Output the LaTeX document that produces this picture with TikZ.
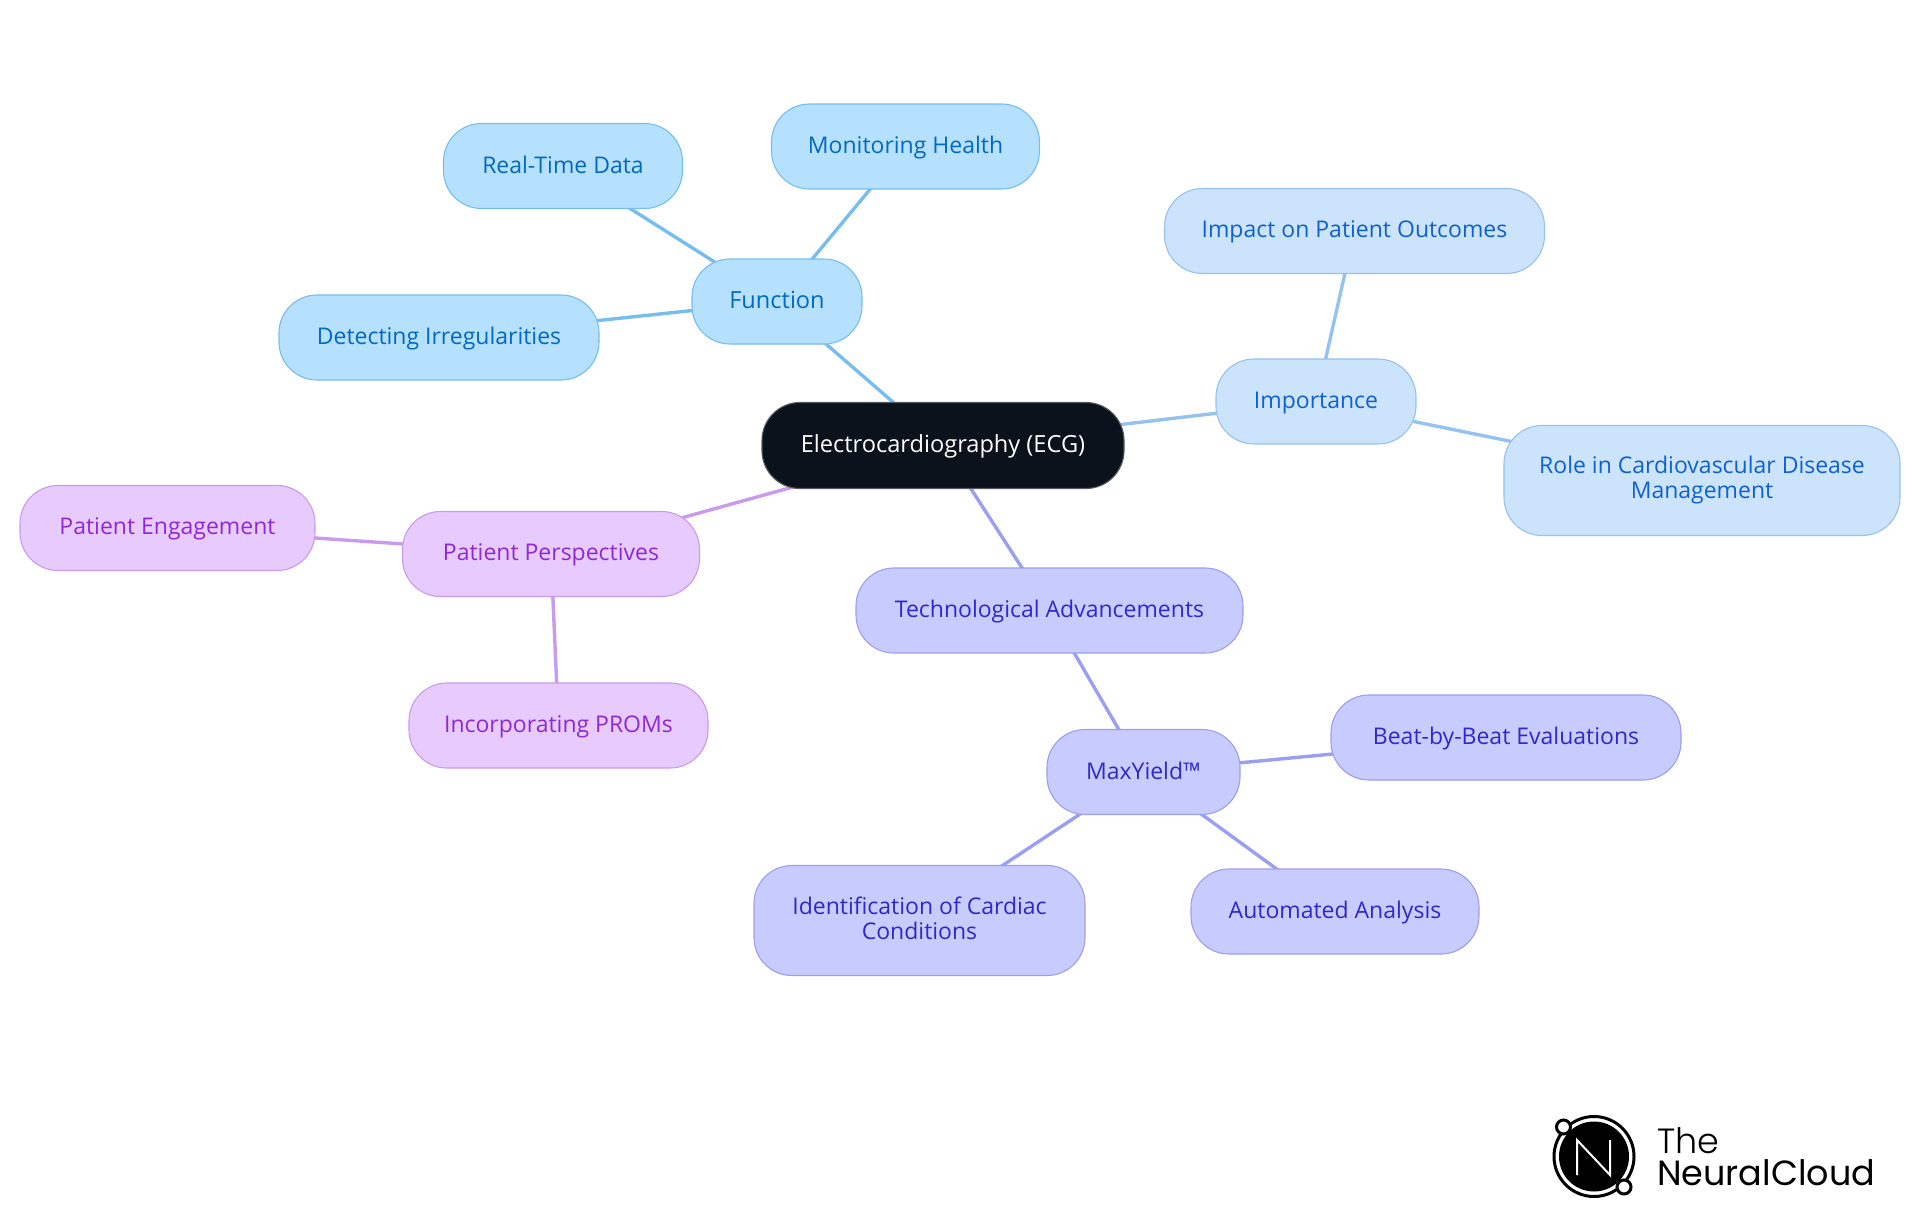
\documentclass[tikz,border=0pt]{standalone}
\usepackage{fontspec}
\setmainfont{Open Sans}
\newfontfamily\logofont{Poppins Light}
\newfontfamily\logofontb{Poppins}
\usetikzlibrary{backgrounds}
\definecolor{bAf}{HTML}{B5E0FE}\definecolor{bAd}{HTML}{76BEF0}\definecolor{bAt}{HTML}{0369C1}
\definecolor{bBf}{HTML}{CCE3FC}\definecolor{bBd}{HTML}{96C2F2}\definecolor{bBt}{HTML}{1060D0}
\definecolor{inf}{HTML}{C8CBFE}\definecolor{ind}{HTML}{9A9FF2}\definecolor{int}{HTML}{3028C8}
\definecolor{puf}{HTML}{E7CBFE}\definecolor{pud}{HTML}{C99BF0}\definecolor{put}{HTML}{9028D8}
\definecolor{rootf}{HTML}{0C121C}
\newcommand{\mmstrut}{\rule[-5.3pt]{0pt}{24.8pt}}
\tikzset{
 mm/.style={rectangle,rounded corners=38pt,inner sep=0pt,line width=1.1pt,align=center,
   font=\fontsize{23}{25}\selectfont,execute at begin node=\mmstrut},
 bigtext/.style={font=\fontsize{23.6}{25}\selectfont},
 blueA/.style={mm,fill=bAf,draw=bAd,text=bAt},
 blueB/.style={mm,fill=bBf,draw=bBd,text=bBt},
 indig/.style={mm,fill=inf,draw=ind,text=int},
 purp/.style={mm,fill=puf,draw=pud,text=put},
 rootn/.style={mm,bigtext,fill=rootf,draw=rootf!70!white,text=white},
 lA/.style={line width=3.4pt,draw=bAd},
 lB/.style={line width=3.4pt,draw=bBd},
 lI/.style={line width=3.4pt,draw=ind},
 lP/.style={line width=3.4pt,draw=pud},
 logotext/.style={inner sep=0pt,anchor=base west,text=black,font=\logofont\fontsize{35}{35}\selectfont},
 logotextb/.style={inner sep=0pt,anchor=base west,text=black,font=\logofontb\fontsize{35}{35}\selectfont},
}
\begin{document}
\begin{tikzpicture}[x=1pt,y=-1pt]
\useasboundingbox (0,0) rectangle (1920,1215);
\node[rootn,minimum width=362pt,minimum height=86pt] (root) at (943,445.5) {Electrocardiography (ECG)};
\node[blueA,bigtext,minimum width=170pt,minimum height=85pt] (fn) at (777,301.5) {Function};
\node[blueA,minimum width=268pt,minimum height=85pt] (mon) at (905.5,146.5) {Monitoring Health};
\node[blueA,minimum width=239pt,minimum height=85pt] (rt) at (563,166) {Real-Time Data};
\node[blueA,minimum width=320pt,minimum height=85pt] (det) at (439,337.5) {Detecting Irregularities};
\node[blueB,minimum width=200pt,minimum height=85pt] (imp) at (1316,401.5) {Importance};
\node[blueB,minimum width=380pt,minimum height=85pt] (out) at (1354.5,231) {Impact on Patient Outcomes};
\node[blueB,minimum width=396pt,minimum height=110pt] (role) at (1702,480.5) {Role in Cardiovascular Disease\\\mmstrut Management};
\node[purp,minimum width=297pt,minimum height=85pt] (pp) at (551,554) {Patient Perspectives};
\node[purp,minimum width=295pt,minimum height=85pt] (eng) at (167.5,528) {Patient Engagement};
\node[purp,minimum width=299pt,minimum height=85pt] (prom) at (558.5,725.5) {Incorporating PROMs};
\node[indig,minimum width=387pt,minimum height=85pt] (tech) at (1049.5,610.5) {Technological Advancements};
\node[indig,minimum width=193pt,minimum height=85pt] (max) at (1143.5,772) {MaxYield™};
\node[indig,minimum width=350pt,minimum height=85pt] (beat) at (1506,737.5) {Beat-by-Beat Evaluations};
\node[indig,minimum width=331pt,minimum height=110pt] (idc) at (919.5,920.5) {Identification of Cardiac\\\mmstrut Conditions};
\node[indig,minimum width=288pt,minimum height=85pt] (auto) at (1335,911.5) {Automated Analysis};
\begin{scope}[on background layer]
\draw[lA] (root.center) -- (fn.center);
\draw[lA] (fn.center) -- (mon.center);
\draw[lA] (fn.center) -- (rt.center);
\draw[lA] (fn.center) -- (det.center);
\draw[lB] (root.center) -- (imp.center);
\draw[lB] (imp.center) -- (out.center);
\draw[lB] (imp.center) -- (role.center);
\draw[lP] (root.center) -- (pp.center);
\draw[lP] (pp.center) -- (eng.center);
\draw[lP] (pp.center) -- (prom.center);
\draw[lI] (root.center) -- (tech.center);
\draw[lI] (tech.center) -- (max.center);
\draw[lI] (max.center) -- (beat.center);
\draw[lI] (max.center) -- (idc.center);
\draw[lI] (max.center) -- (auto.center);
\end{scope}
% logo
\fill[black] (1594,1156.5) circle (35);
\draw[black,line width=3pt] (1594,1156.5) circle (40);
\draw[white,line width=2pt,line join=miter] (1577,1175) -- (1577,1140) -- (1610,1175) -- (1610,1140);
\draw[black,line width=3pt,fill=white] (1563.5,1127) circle (7);
\draw[black,line width=3pt,fill=white] (1624,1187) circle (7);
\node[logotext] (lthe) at (1657,1153) {The};
\node[logotextb] (lnc) at (1657,1185) {NeuralCloud};
\end{tikzpicture}
\end{document}
